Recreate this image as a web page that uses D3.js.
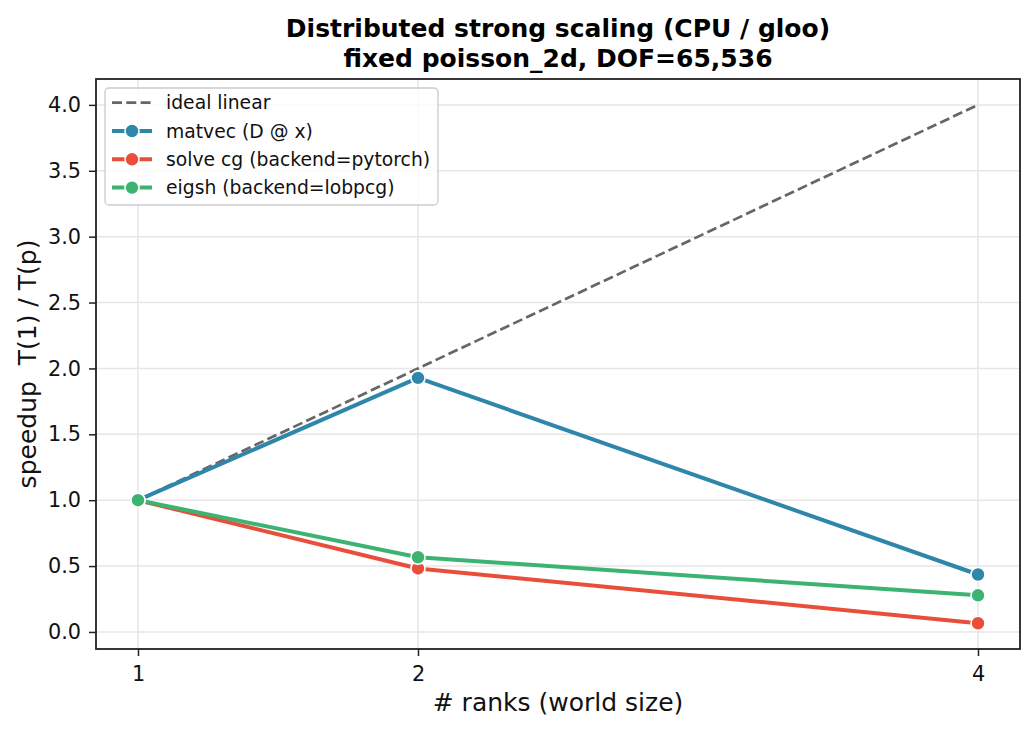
<!DOCTYPE html>
<html>
<head>
<meta charset="utf-8">
<script src="https://cdn.jsdelivr.net/npm/d3@7"></script>
<style>
  html, body { margin: 0; padding: 0; background: #fff; }
  svg { display: block; font-family: "DejaVu Sans", sans-serif; }
</style>
</head>
<body>
<svg id="chart" width="1034" height="733"></svg>
<script>
const ranks = [1, 2, 4];
const idealLinear = [1, 2, 4];
const matvec = [1.0, 1.928, 0.436];
const solveCg = [1.0, 0.482, 0.066];
const eigsh = [1.0, 0.567, 0.278];
const yTicks = [0.0, 0.5, 1.0, 1.5, 2.0, 2.5, 3.0, 3.5, 4.0];
const seriesNames = ["matvec (D @ x)", "solve cg (backend=pytorch)", "eigsh (backend=lobpcg)"];
const seriesColors = ["#2e86ab", "#e84e39", "#3cb371"];
const titleLines = ["Distributed strong scaling (CPU / gloo)", "fixed poisson_2d, DOF=65,536"];

(function () {
const series = [matvec, solveCg, eigsh];

const svg = d3.select("#chart");
const mL = 96, mR = 1020, mT = 79, mB = 649;

const x = d3.scaleLinear().domain([0.85, 4.15]).range([mL, mR]);
const y = d3.scaleLinear().domain([-0.1294, 4.1966]).range([mB, mT]);

// grid
const grid = svg.append("g");
grid.selectAll(".gx").data(ranks).join("line")
  .attr("x1", d => x(d)).attr("x2", d => x(d))
  .attr("y1", mT).attr("y2", mB)
  .attr("stroke", "#e6e6e6").attr("stroke-width", 1.5);
grid.selectAll(".gy").data(yTicks).join("line")
  .attr("y1", d => y(d)).attr("y2", d => y(d))
  .attr("x1", mL).attr("x2", mR)
  .attr("stroke", "#e6e6e6").attr("stroke-width", 1.5);

// axes
const xAxis = svg.append("g").attr("transform", `translate(0,${mB})`)
  .call(d3.axisBottom(x).tickValues(ranks).tickFormat(d3.format("d")).tickSize(7).tickPadding(10));
const yAxis = svg.append("g").attr("transform", `translate(${mL},0)`)
  .call(d3.axisLeft(y).tickValues(yTicks).tickFormat(d3.format(".1f")).tickSize(7).tickPadding(8));
[xAxis, yAxis].forEach(a => {
  a.select(".domain").remove();
  a.selectAll(".tick line").attr("stroke", "#222").attr("stroke-width", 1.5);
  a.selectAll(".tick text").attr("fill", "#111").style("font-size", "20.8px").style("font-family", "DejaVu Sans");
});

// frame
svg.append("rect").attr("x", mL).attr("y", mT)
  .attr("width", mR - mL).attr("height", mB - mT)
  .attr("fill", "none").attr("stroke", "#222").attr("stroke-width", 1.8);

// clip
svg.append("clipPath").attr("id", "clip").append("rect")
  .attr("x", mL).attr("y", mT).attr("width", mR - mL).attr("height", mB - mT);
const plot = svg.append("g").attr("clip-path", "url(#clip)");

const line = d3.line().x((d, i) => x(ranks[i])).y(d => y(d));

// ideal
plot.append("path").datum(idealLinear)
  .attr("d", line).attr("fill", "none")
  .attr("stroke", "#666").attr("stroke-width", 2.7)
  .attr("stroke-dasharray", "10,4.3");

series.forEach((s, k) => {
  plot.append("path").datum(s).attr("d", line).attr("fill", "none")
    .attr("stroke", seriesColors[k]).attr("stroke-width", 4)
    .attr("stroke-linejoin", "round");
});
series.forEach((s, k) => {
  plot.selectAll(null).data(s).join("circle")
    .attr("cx", (d, i) => x(ranks[i])).attr("cy", d => y(d))
    .attr("r", 7).attr("fill", seriesColors[k])
    .attr("stroke", "#fff").attr("stroke-width", 1.6);
});

// titles
svg.append("text").attr("x", (mL + mR) / 2).attr("y", 37)
  .attr("text-anchor", "middle").style("font-weight", "bold").style("font-size", "25px")
  .attr("fill", "#000").text(titleLines[0]);
svg.append("text").attr("x", (mL + mR) / 2).attr("y", 67)
  .attr("text-anchor", "middle").style("font-weight", "bold").style("font-size", "25px")
  .attr("fill", "#000").text(titleLines[1]);

// axis labels
svg.append("text").attr("x", (mL + mR) / 2).attr("y", 711)
  .attr("text-anchor", "middle").style("font-size", "25px").attr("fill", "#111")
  .text("# ranks (world size)");
svg.append("text")
  .attr("transform", `translate(36,${(mT + mB) / 2}) rotate(-90)`)
  .attr("text-anchor", "middle").style("font-size", "25px").attr("fill", "#111")
  .style("white-space", "pre")
  .text("speedup  T(1) / T(p)");

// legend
const lg = svg.append("g").attr("transform", "translate(105,88)");
lg.append("rect").attr("width", 333).attr("height", 117).attr("rx", 4)
  .attr("fill", "#fff").attr("fill-opacity", 0.8)
  .attr("stroke", "#cccccc").attr("stroke-width", 1.3);
const legendItems = [{name: "ideal linear", color: "#666", dashed: true}]
  .concat(seriesNames.map((n, k) => ({name: n, color: seriesColors[k], dashed: false})));
legendItems.forEach((it, i) => {
  const cy = 14.7 + i * 28.3;
  const g = lg.append("g").attr("transform", `translate(0,${cy})`);
  g.append("line").attr("x1", 7).attr("x2", 47).attr("y1", 0).attr("y2", 0)
    .attr("stroke", it.color).attr("stroke-width", it.dashed ? 2.7 : 4)
    .attr("stroke-dasharray", it.dashed ? "10,4.3" : null);
  if (!it.dashed) {
    g.append("circle").attr("cx", 27).attr("cy", 0).attr("r", 7)
      .attr("fill", it.color).attr("stroke", "#fff").attr("stroke-width", 1.6);
  }
  g.append("text").attr("x", 61).attr("y", 0).attr("dy", "0.35em")
    .style("font-size", "18.75px").attr("fill", "#111").text(it.name);
});
})();
</script>
</body>
</html>
